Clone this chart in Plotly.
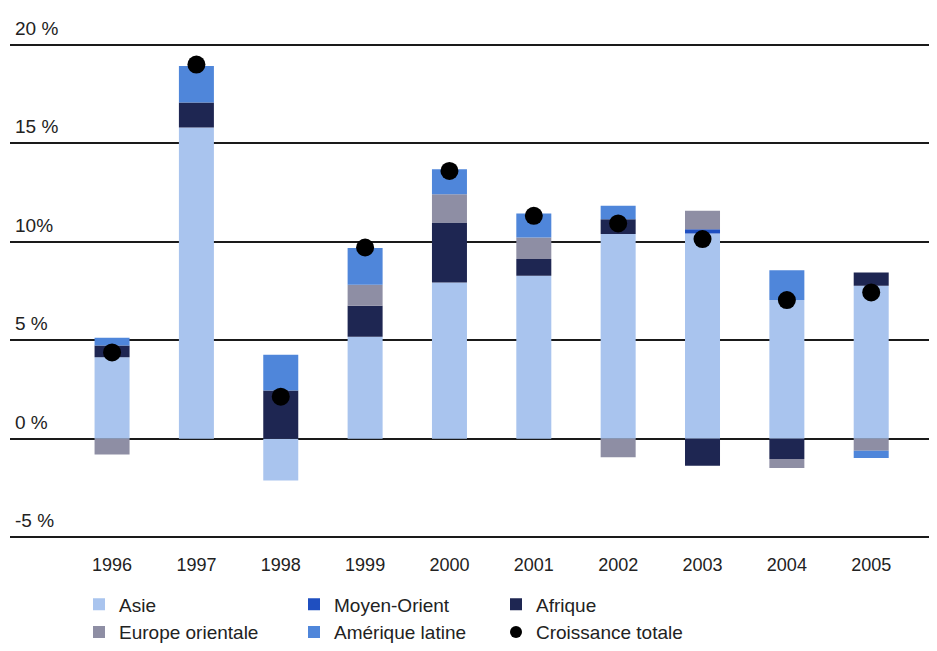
import plotly.graph_objects as go

years = [1996, 1997, 1998, 1999, 2000, 2001, 2002, 2003, 2004, 2005]
asie = [4.13, 15.8, -2.13, 5.18, 7.93, 8.27, 10.39, 10.42, 7.04, 7.77]
moyen_orient = [0, 0, 0, 0, 0, 0, 0, 0.22, 0, 0]
afrique = [0.6, 1.27, 2.44, 1.57, 3.05, 0.85, 0.76, -1.37, -1.03, 0.67]
europe_orientale = [-0.8, 0, 0, 1.07, 1.44, 1.1, -0.95, 0.93, -0.46, -0.61]
amerique_latine = [0.4, 1.86, 1.82, 1.86, 1.27, 1.22, 0.68, 0, 1.52, -0.37]
croissance_totale = [4.38, 19.0, 2.13, 9.71, 13.6, 11.32, 10.93, 10.14, 7.04, 7.43]

y_ticks = [-5, 0, 5, 10, 15, 20]
y_tick_labels = ["-5 %", "0 %", "5 %", "10%", "15 %", "20 %"]

FONT = "Liberation Sans, Arial, sans-serif"
BAR_W = 0.415

# (name, values, colour, legend column)
series = [
    ("Asie", asie, "#a9c4ee", "legend"),
    ("Moyen-Orient", moyen_orient, "#1f4fc0", "legend2"),
    ("Afrique", afrique, "#1e2652", "legend3"),
    ("Europe orientale", europe_orientale, "#8e8ea4", "legend"),
    ("Amérique latine", amerique_latine, "#4f86da", "legend2"),
]

fig = go.Figure()
for name, vals, color, lg in series:
    fig.add_trace(go.Bar(
        x=years, y=vals, name=name, width=BAR_W,
        marker=dict(color=color, line=dict(width=0)),
        legend=lg,
    ))

fig.add_trace(go.Scatter(
    x=years, y=croissance_totale, name="Croissance totale",
    mode="markers", marker=dict(color="black", size=18),
    legend="legend3",
))

legend_common = dict(
    orientation="v", xanchor="left", yanchor="middle",
    xref="container", yref="container",
    font=dict(family=FONT, size=19, color="#222"),
    bgcolor="rgba(0,0,0,0)", itemsizing="constant",
    traceorder="normal", tracegroupgap=0,
)

annotations = [
    dict(x=0, xref="paper", y=v, yref="y", text=t, showarrow=False,
         xanchor="left", yanchor="bottom", xshift=3, yshift=4,
         font=dict(family=FONT, size=19, color="#222"))
    for v, t in zip(y_ticks, y_tick_labels)
]

W, H = 929, 643
leg_y = 1 - 610.5 / H
fig.update_layout(
    width=W, height=H,
    margin=dict(l=2, r=0, t=31, b=108, autoexpand=False),
    paper_bgcolor="white", plot_bgcolor="white",
    barmode="relative",
    font=dict(family=FONT, color="#222"),
    legend=dict(x=71 / W, y=leg_y, **legend_common),
    legend2=dict(x=286 / W, y=leg_y, **legend_common),
    legend3=dict(x=488 / W, y=leg_y, **legend_common),
    annotations=annotations,
    xaxis=dict(
        range=[1994.79, 2005.78],
        tickvals=years, ticktext=[str(y) for y in years],
        showgrid=False, zeroline=False, showline=False,
        ticks="outside", ticklen=5, tickcolor="rgba(0,0,0,0)",
        tickfont=dict(family=FONT, size=18, color="#222"),
    ),
    yaxis=dict(
        range=[-5.3, 20.3],
        tickvals=y_ticks, showticklabels=False,
        showgrid=True, gridcolor="#1a1a1a", gridwidth=2,
        zeroline=True, zerolinecolor="#1a1a1a", zerolinewidth=2,
        showline=False, ticks="",
    ),
    showlegend=True,
)

fig.write_html("out.html")
